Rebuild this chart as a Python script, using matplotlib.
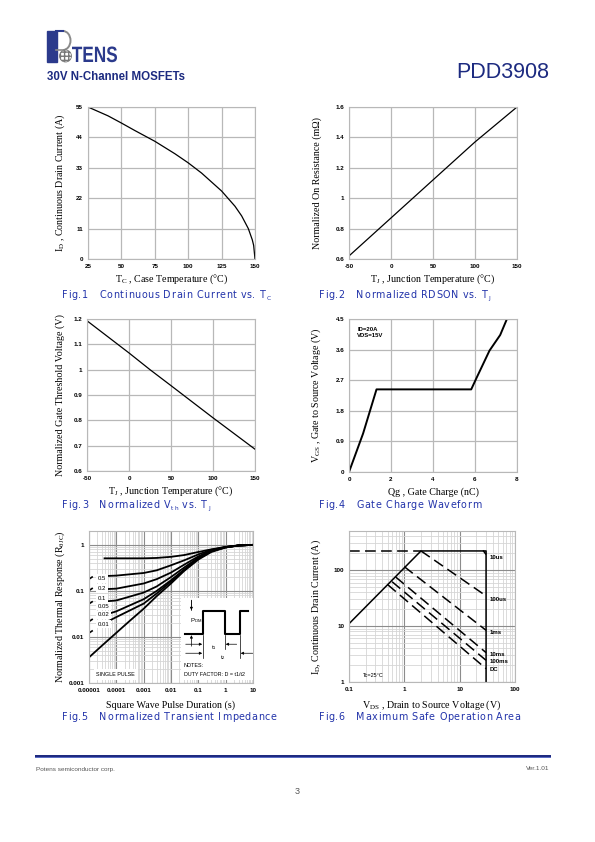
import matplotlib
matplotlib.use("Agg")
import matplotlib.pyplot as plt
from matplotlib.patches import Rectangle, Circle, PathPatch, Arc
from matplotlib.textpath import TextPath, TextToPath
from matplotlib.font_manager import FontProperties
from matplotlib.ticker import LogLocator, NullFormatter
import matplotlib.transforms as mtransforms

plt.rcParams['mathtext.default'] = 'regular'

# ---- data ----
# Fig.1 continuous drain current vs case temperature
tc = [25, 40, 50, 60, 75, 90, 100, 110, 125, 135, 140, 145, 148, 149, 150]
id_tc = [55, 51.8, 49.2, 46.5, 42.6, 38.1, 34.8, 31.1, 24.6, 19.1, 15.6, 11.0, 6.9, 4.9, 0]

# Fig.2 normalized RDS(on) vs junction temperature
tj_r = [-50, 0, 25, 50, 100, 150]
rdson = [0.62, 0.87, 0.995, 1.12, 1.37, 1.6]

# Fig.3 normalized Vth vs junction temperature
tj_v = [-50, 0, 25, 50, 100, 150]
vth = [1.193, 1.066, 1.0, 0.937, 0.81, 0.686]

# Fig.4 gate charge
qg = [0, 0.67, 1.31, 5.82, 6.06, 6.69, 7.2, 7.52]
vgs = [0, 1.13, 2.43, 2.43, 2.75, 3.57, 4.03, 4.5]

# Fig.5 transient thermal impedance
t_single = [1e-5, 3e-5, 1e-4, 3e-4, 1e-3, 3e-3, 1e-2, 3e-2, 0.1, 0.3, 1, 3, 10]
z_single = [0.0036, 0.0065, 0.0123, 0.022, 0.041, 0.077, 0.145, 0.27, 0.48, 0.7, 0.88, 0.97, 1.0]
t_duty = [3.7e-5, 1e-4, 1e-3, 3e-3, 1e-2, 3e-2, 0.1, 0.3, 1, 3, 10]
z_d50 = [0.51, 0.51, 0.51, 0.52, 0.55, 0.6, 0.7, 0.8, 0.9, 0.97, 1.0]
z_d20 = [0.21, 0.215, 0.245, 0.28, 0.36, 0.46, 0.62, 0.78, 0.9, 0.97, 1.0]
z_d10 = [0.109, 0.112, 0.145, 0.18, 0.25, 0.37, 0.56, 0.76, 0.9, 0.97, 1.0]
z_d05 = [0.059, 0.062, 0.092, 0.125, 0.2, 0.32, 0.53, 0.75, 0.89, 0.97, 1.0]
z_d02 = [0.030, 0.036, 0.066, 0.1, 0.17, 0.29, 0.51, 0.74, 0.89, 0.97, 1.0]
z_d01 = [0.020, 0.027, 0.053, 0.088, 0.16, 0.28, 0.5, 0.73, 0.88, 0.97, 1.0]
duty_labels = ['0.5', '0.2', '0.1', '0.05', '0.02', '0.01']
duty_label_y = [0.186, 0.112, 0.07, 0.047, 0.030, 0.019]
stray_y = [0.2, 0.113, 0.058, 0.024, 0.0135]

# Fig.6 safe operating area
soa_v = [0.1, 2, 30, 30]
soa_i = [11, 220, 220, 1]
lim_v = [0.1, 2]
lim_i = [220, 220]
us10_v = [26.5, 30]
us10_i = [225, 190]
us100_v = [2, 30]
us100_i = [220, 34.6]
ms1_v = [1, 30]
ms1_i = [115, 8.4]
ms10_v = [0.7, 30]
ms10_i = [75, 3.35]
ms100_v = [0.6, 30]
ms100_i = [62, 2.44]
dc_v = [0.5, 30]
dc_i = [55, 1.73]
soa_labels = ['10us', '100us', '1ms', '10ms', '100ms', 'DC']
soa_label_i = [165, 30, 7.7, 3.1, 2.3, 1.67]

W, H = 595, 842
fig = plt.figure(figsize=(W / 100, H / 100), dpi=100)

NAVY = '#1c2a80'
CAP = '#2233aa'
GRID = '#b8b8b8'
SERIF = 'Liberation Serif'
SANS = 'Liberation Sans'
ttp = TextToPath()


def px_axes(l, t, r, b):
    return fig.add_axes([l / W, 1 - b / H, (r - l) / W, (b - t) / H])


def style(ax, xt, xl, yt, yl, xlab, ylab, xlc, ylc):
    ax.set_xticks(xt, xl, fontweight='bold', fontsize=4.5, family=SANS)
    ax.set_yticks(yt, yl, fontweight='bold', fontsize=4.5, family=SANS)
    ax.tick_params(which='both', length=0, pad=3.5)
    for s in ax.spines.values():
        s.set_color(GRID)
        s.set_linewidth(0.8)
    ax.set_xlabel(xlab, family=SERIF, fontsize=7.2)
    ax.set_ylabel(ylab, family=SERIF, fontsize=7.2)
    ax.xaxis.set_label_coords(0.5, xlc)
    ax.yaxis.set_label_coords(ylc, 0.5)
    ax.xaxis.label.set_va('center')
    ax.yaxis.label.set_va('center')
    ax.set_axisbelow(True)


def advance(ch, prop):
    # width of a character in pixels, spaces included
    w1 = ttp.get_text_width_height_descent(ch + '|', prop, ismath=False)[0]
    w2 = ttp.get_text_width_height_descent('|', prop, ismath=False)[0]
    return (w1 - w2) * 100 / 72


def caption(x, y, parts, size=6.9, spacing=0.62):
    # blue figure caption with the wide letter spacing of the datasheet
    cx = x
    for text, sub in parts:
        p = FontProperties(family='DejaVu Sans', size=size * (0.62 if sub else 1))
        dy = 1.8 if sub else 0
        for ch in text:
            fig.text(cx / W, 1 - (y + dy) / H, ch, fontproperties=p, color=CAP,
                     va='baseline', ha='left')
            cx += advance(ch, p) + spacing


# ---- page decorations ----
page = fig.add_axes([0, 0, 1, 1])
page.set_xlim(0, W)
page.set_ylim(H, 0)
page.axis('off')

# logo
page.add_patch(Rectangle((47, 31), 9.5, 31, color='#2b3a8c'))
page.plot([56, 63], [31, 31], color='#2b3a8c', lw=1.5)
page.add_patch(Arc((63, 40.5), 15, 19, theta1=-90, theta2=90, color='#8a8a8a', lw=1.4))
page.plot([56, 63], [50, 50], color='#8a8a8a', lw=1.2)
page.add_patch(Circle((65.5, 56), 6, facecolor='white', edgecolor='#777777',
                      hatch='++++', lw=0.6))
tp = TextPath((0, 0), "TENS", size=1, prop=FontProperties(family=SANS, weight='bold'))
ext = tp.get_extents()
sx = 45 / ext.width
sy = 16 / 0.72
tr = mtransforms.Affine2D().translate(-ext.x0, 0).scale(sx, -sy).translate(72, 62)
page.add_patch(PathPatch(tr.transform_path(tp), color='#2b3a8c', lw=0))

fig.text(47 / W, 1 - 77 / H, '30V N-Channel MOSFETs', family=SANS,
         fontweight='bold', fontsize=8.3, color=NAVY, va='center')
fig.text(549 / W, 1 - 73 / H, 'PDD3908', family=SANS, fontsize=15.5,
         color=NAVY, va='center', ha='right')

# footer
page.add_patch(Rectangle((35, 754.5), 516, 2.0, color='#1f2a80', lw=0))
page.add_patch(Rectangle((35, 756.5), 516, 1.5, color='#5a6cc4', lw=0))
fig.text(36 / W, 1 - 769 / H, 'Potens semiconductor corp.', family=SANS,
         fontsize=4.6, color='#555555', va='center')
fig.text(549 / W, 1 - 769 / H, 'Ver.1.01', family=SANS, fontsize=4.6,
         color='#555555', va='center', ha='right')
fig.text(297 / W, 1 - 792 / H, '3', family=SANS, fontsize=6.5,
         color='#555555', va='center', ha='center')

# ---- Fig.1 ----
ax1 = px_axes(88, 107, 255, 259)
ax1.plot(tc, id_tc, color='k', lw=0.9)
ax1.set_xlim(25, 150)
ax1.set_ylim(0, 55)
ax1.grid(True, color=GRID, lw=0.9)
style(ax1, [25, 50, 75, 100, 125, 150], ['25', '50', '75', '100', '125', '150'],
      [0, 11, 22, 33, 44, 55], ['0', '11', '22', '33', '44', '55'],
      'T$_C$ , Case Temperature (°C)', 'I$_D$ , Continuous Drain Current (A)',
      -0.134, -0.168)
caption(62, 298.5, [('Fig.1   Continuous Drain Current vs. T', False), ('C', True)])

# ---- Fig.2 ----
ax2 = px_axes(349, 107, 517, 259)
ax2.plot(tj_r, rdson, color='k', lw=0.9)
ax2.set_xlim(-50, 150)
ax2.set_ylim(0.6, 1.6)
ax2.grid(True, color=GRID, lw=0.9)
style(ax2, [-50, 0, 50, 100, 150], ['-50', '0', '50', '100', '150'],
      [0.6, 0.8, 1.0, 1.2, 1.4, 1.6], ['0.6', '0.8', '1', '1.2', '1.4', '1.6'],
      'T$_J$ , Junction Temperature (°C)', 'Normalized On Resistance (mΩ)',
      -0.134, -0.192)
caption(319, 298.5, [('Fig.2   Normalized RDSON vs. T', False), ('J', True)])

# ---- Fig.3 ----
ax3 = px_axes(87, 319, 255, 471)
ax3.plot(tj_v, vth, color='k', lw=0.9)
ax3.set_xlim(-50, 150)
ax3.set_ylim(0.6, 1.2)
ax3.grid(True, color=GRID, lw=0.9)
style(ax3, [-50, 0, 50, 100, 150], ['-50', '0', '50', '100', '150'],
      [0.6, 0.7, 0.8, 0.9, 1.0, 1.1, 1.2], ['0.6', '0.7', '0.8', '0.9', '1', '1.1', '1.2'],
      'T$_J$ , Junction Temperature (°C)', 'Normalized Gate Threshold Voltage (V)',
      -0.132, -0.157)
caption(62, 508.5, [('Fig.3   Normalized V', False), ('th', True), (' vs. T', False),
                    ('J', True)])

# ---- Fig.4 ----
ax4 = px_axes(349, 319, 517, 472)
ax4.plot(qg, vgs, color='k', lw=1.4)
ax4.set_xlim(0, 8)
ax4.set_ylim(0, 4.5)
ax4.grid(True, color=GRID, lw=0.9)
style(ax4, [0, 2, 4, 6, 8], ['0', '2', '4', '6', '8'],
      [0, 0.9, 1.8, 2.7, 3.6, 4.5], ['0', '0.9', '1.8', '2.7', '3.6', '4.5'],
      'Qg , Gate Charge (nC)', 'V$_{GS}$ , Gate to Source Voltage (V)',
      -0.129, -0.192)
ax4.text(0.05, 0.95, 'ID=20A\nVDS=15V', transform=ax4.transAxes, family=SANS,
         fontsize=4.3, fontweight='bold', va='top', linespacing=1.4)
caption(319, 508.5, [('Fig.4   Gate Charge Waveform', False)])

# ---- Fig.5 ----
ax5 = px_axes(89, 531, 253, 683)
ax5.set_xscale('log')
ax5.set_yscale('log')
ax5.set_xlim(1e-5, 10)
ax5.set_ylim(0.001, 2)
ax5.grid(True, which='major', color='#8c8c8c', lw=0.8)
ax5.grid(True, which='minor', color='#d6d6d6', lw=0.6)
ax5.xaxis.set_minor_locator(LogLocator(base=10, subs=range(2, 10), numticks=20))
ax5.yaxis.set_minor_locator(LogLocator(base=10, subs=range(2, 10), numticks=20))
ax5.xaxis.set_minor_formatter(NullFormatter())
ax5.yaxis.set_minor_formatter(NullFormatter())
ax5.plot(t_single, z_single, color='k', lw=1.3)
for z in [z_d50, z_d20, z_d10, z_d05, z_d02, z_d01]:
    ax5.plot(t_duty, z, color='k', lw=1.3)
for lab, yv in zip(duty_labels, duty_label_y):
    ax5.text(2.1e-5, yv, lab, family=SANS, fontsize=4.3, va='center',
             bbox=dict(facecolor='white', edgecolor='none', pad=1.2))
for yv in stray_y:
    ax5.plot([1.08e-5, 1.3e-5], [yv * 0.93, yv], color='k', lw=1.2)
ax5.text(0.045, 0.055, 'SINGLE PULSE', transform=ax5.transAxes, family=SANS,
         fontsize=3.9, va='center',
         bbox=dict(facecolor='white', edgecolor='none', pad=2))
style(ax5, [1e-5, 1e-4, 1e-3, 1e-2, 1e-1, 1, 10],
      ['0.00001', '0.0001', '0.001', '0.01', '0.1', '1', '10'],
      [0.001, 0.01, 0.1, 1], ['0.001', '0.01', '0.1', '1'],
      'Square Wave Pulse Duration (s)', 'Normalized Thermal Response (R$_{θJC}$)',
      -0.147, -0.174)


# inset schematic (positions in pixels of the page, converted to axes fractions)
def ins(px, py):
    return ((px - 89.3) / 164, (682.7 - py) / 151.7)


x0, y0 = ins(181.7, 680)
x1, y1 = ins(253.3, 598.3)
ax5.add_patch(Rectangle((x0, y0), x1 - x0, y1 - y0, transform=ax5.transAxes,
                        facecolor='white', edgecolor='none', zorder=3))
wx = [185, 203.3, 203.3, 225, 225, 240, 240, 248.3]
wy = [633.3, 633.3, 611, 611, 633.3, 633.3, 611, 611]
pts = [ins(a, b) for a, b in zip(wx, wy)]
ax5.plot([p[0] for p in pts], [p[1] for p in pts], transform=ax5.transAxes,
         color='k', lw=1.5, zorder=4)
for vx, ya, yb in [(203.3, 635, 658), (225, 635, 649), (240, 635, 658), (191.7, 600, 610)]:
    a, b = ins(vx, ya), ins(vx, yb)
    ax5.plot([a[0], b[0]], [a[1], b[1]], transform=ax5.transAxes, color='k',
             lw=0.5, zorder=4)
arrows = [((191.7, 600), (191.7, 610)), ((191.7, 646), (191.7, 635)),
          ((186, 644), (202.5, 644)), ((237, 644), (226, 644)),
          ((186, 653), (202.5, 653)), ((253, 653), (241, 653))]
for (ax_, ay_), (bx_, by_) in arrows:
    ax5.annotate('', xy=ins(bx_, by_), xytext=ins(ax_, ay_), xycoords='axes fraction',
                 textcoords='axes fraction', zorder=5,
                 arrowprops=dict(arrowstyle='-|>', color='k', lw=0.5,
                                 mutation_scale=4, shrinkA=0, shrinkB=0))
ax5.text(*ins(196, 620), 'P$_{DM}$', transform=ax5.transAxes, family=SANS,
         fontsize=4.3, va='center', ha='center', zorder=5)
ax5.text(*ins(214, 647), 't$_1$', transform=ax5.transAxes, family=SANS,
         fontsize=4.3, va='center', ha='center', zorder=5)
ax5.text(*ins(223, 657), 't$_2$', transform=ax5.transAxes, family=SANS,
         fontsize=4.3, va='center', ha='center', zorder=5)
ax5.text(*ins(184, 665), 'NOTES:', transform=ax5.transAxes, family=SANS,
         fontsize=3.9, va='center', zorder=5)
ax5.text(*ins(184, 674.5), 'DUTY FACTOR: D = t1/t2', transform=ax5.transAxes,
         family=SANS, fontsize=3.9, va='center', zorder=5)
caption(62, 719.5, [('Fig.5   Normalized Transient Impedance', False)])

# ---- Fig.6 ----
ax6 = px_axes(349, 531, 515, 682)
ax6.set_xscale('log')
ax6.set_yscale('log')
ax6.set_xlim(0.1, 100)
ax6.set_ylim(1, 500)
ax6.grid(True, which='major', color='#8c8c8c', lw=0.8)
ax6.grid(True, which='minor', color='#d6d6d6', lw=0.6)
ax6.xaxis.set_minor_locator(LogLocator(base=10, subs=range(2, 10), numticks=20))
ax6.yaxis.set_minor_locator(LogLocator(base=10, subs=range(2, 10), numticks=20))
ax6.xaxis.set_minor_formatter(NullFormatter())
ax6.yaxis.set_minor_formatter(NullFormatter())
ax6.plot(soa_v, soa_i, color='k', lw=1.1)
dash = (0, (7, 3.5))
for vv, ii in [(lim_v, lim_i), (us10_v, us10_i), (us100_v, us100_i), (ms1_v, ms1_i),
               (ms10_v, ms10_i), (ms100_v, ms100_i), (dc_v, dc_i)]:
    ax6.plot(vv, ii, color='k', lw=1.1, linestyle=dash)
for lab, iv in zip(soa_labels, soa_label_i):
    ax6.text(35, iv, lab, family=SANS, fontsize=4.3, fontweight='bold', va='center')
ax6.text(0.175, 1.32, 'Tc=25°C', family=SANS, fontsize=4.0, va='center')
style(ax6, [0.1, 1, 10, 100], ['0.1', '1', '10', '100'],
      [1, 10, 100], ['1', '10', '100'],
      'V$_{DS}$ , Drain to Source Voltage (V)', 'I$_D$, Continuous Drain Current (A)',
      -0.155, -0.196)
caption(319, 719.5, [('Fig.6   Maximum Safe Operation Area', False)])

fig.savefig('out.png', dpi=100)
